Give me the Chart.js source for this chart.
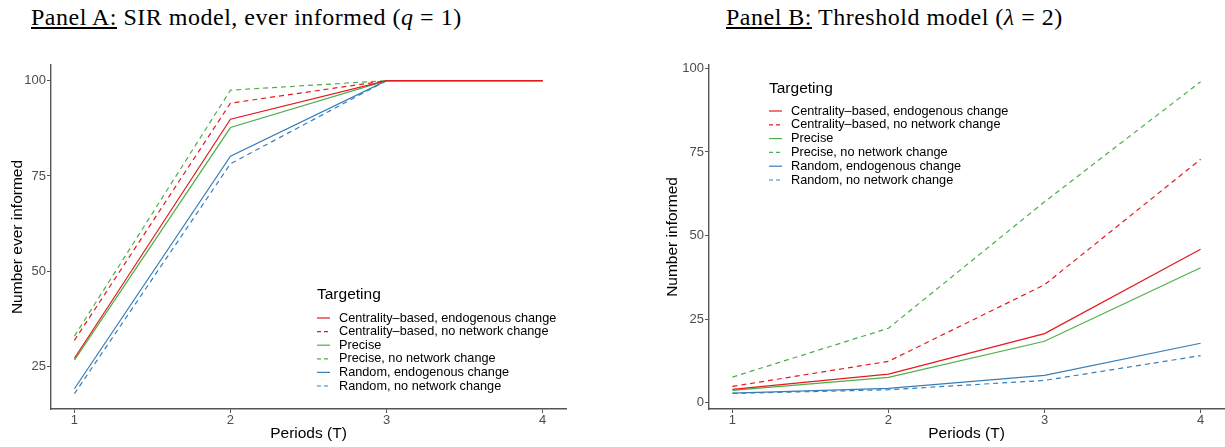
<!DOCTYPE html>
<html>
<head>
<meta charset="utf-8">
<script src="https://cdn.jsdelivr.net/npm/chart.js@4.4.0/dist/chart.umd.min.js"></script>
<style>
  body { margin: 0; background: #fff; width: 1225px; height: 447px; position: relative; overflow: hidden; }
  canvas { position: absolute; top: 0; }
  .title { position: absolute; font-family: "Liberation Serif", serif; font-size: 24px; line-height: 24px; letter-spacing: 0.5px; white-space: nowrap; color: #000; }
</style>
</head>
<body>
<div class="title" style="left:31px; top:5px"><u>Panel A:</u> SIR model, ever informed (<i>q</i> = 1)</div>
<div class="title" style="left:726px; top:5px"><u>Panel B:</u> Threshold model (<i>λ</i> = 2)</div>
<canvas id="chartA" width="612" height="447" style="left:0"></canvas>
<canvas id="chartB" width="613" height="447" style="left:612px"></canvas>
<script>
const periods = [1, 2, 3, 4];
const xTicks = [1, 2, 3, 4];
const yTicksA = [25, 50, 75, 100];
const yTicksB = [0, 25, 50, 75, 100];

const seriesLabels = [
  'Centrality\u2013based, endogenous change',
  'Centrality\u2013based, no network change',
  'Precise',
  'Precise, no network change',
  'Random, endogenous change',
  'Random, no network change'
];

// Panel A: SIR model, number ever informed
const sirCentralityEndog = [27.2, 89.9, 100, 100];
const sirCentralityNoChange = [31.9, 94.1, 100, 100];
const sirPrecise = [26.7, 87.7, 100, 100];
const sirPreciseNoChange = [33.0, 97.5, 100, 100];
const sirRandomEndog = [19.2, 80.2, 100, 100];
const sirRandomNoChange = [17.9, 78.2, 100, 100];

// Panel B: threshold model, number informed
const thrCentralityEndog = [4.0, 8.6, 20.7, 45.9];
const thrCentralityNoChange = [4.9, 12.4, 35.3, 72.8];
const thrPrecise = [3.7, 7.6, 18.4, 40.4];
const thrPreciseNoChange = [7.7, 22.3, 60.1, 96.0];
const thrRandomEndog = [2.9, 4.3, 8.2, 17.8];
const thrRandomNoChange = [2.8, 3.9, 6.7, 14.1];

const colors = ['#E41A1C', '#E41A1C', '#4DAF4A', '#4DAF4A', '#377EB8', '#377EB8'];
const dashes = [[], [5, 4], [], [5, 4], [], [5, 4]];

Chart.defaults.font.family = '"Liberation Sans", Arial, sans-serif';

function makeDatasets(series) {
  return series.map((vals, i) => ({
    label: seriesLabels[i],
    data: vals.map((v, j) => ({ x: periods[j], y: v })),
    borderColor: colors[i],
    borderDash: dashes[i],
    borderWidth: 1.2,
    pointRadius: 0,
    tension: 0,
    fill: false
  }));
}

// ggplot-style legend drawn inside the panel
const ggLegend = {
  id: 'ggLegend',
  afterDatasetsDraw(chart, args, opts) {
    const ctx = chart.ctx;
    ctx.save();
    ctx.textBaseline = 'middle';
    ctx.fillStyle = '#000';
    ctx.font = '15.5px "Liberation Sans", Arial';
    ctx.fillText('Targeting', opts.x, opts.y);
    ctx.font = '12.7px "Liberation Sans", Arial';
    chart.data.datasets.forEach((ds, i) => {
      const y = opts.rowY + i * opts.step;
      ctx.strokeStyle = ds.borderColor;
      ctx.lineWidth = 1.2;
      ctx.setLineDash(ds.borderDash.length ? [4, 3] : []);
      ctx.beginPath();
      ctx.moveTo(opts.x, y);
      ctx.lineTo(opts.x + 13, y);
      ctx.stroke();
      ctx.setLineDash([]);
      ctx.fillStyle = '#000';
      ctx.fillText(ds.label, opts.x + 22, y);
    });
    ctx.restore();
  }
};

function makeScales(yMin, yMax, yTicks, yTitle, yTitlePad) {
  const axisBorder = { color: '#555', width: 1.4 };
  const tickGrid = { drawOnChartArea: false, tickLength: 4, color: '#555', lineWidth: 1 };
  return {
    x: {
      type: 'linear', min: 0.85, max: 4.15,
      afterBuildTicks: s => { s.ticks = xTicks.map(v => ({ value: v })); },
      afterFit: s => { s.height = 38; },
      border: axisBorder,
      grid: tickGrid,
      ticks: { color: '#4d4d4d', font: { size: 13 }, padding: 0, maxRotation: 0 },
      title: { display: true, text: 'Periods (T)', color: '#000', font: { size: 15.5 }, padding: { top: 0, bottom: 4 } }
    },
    y: {
      type: 'linear', min: yMin, max: yMax,
      afterBuildTicks: s => { s.ticks = yTicks.map(v => ({ value: v })); },
      afterFit: s => { s.width = 51; },
      border: axisBorder,
      grid: tickGrid,
      ticks: { color: '#4d4d4d', font: { size: 13 }, padding: 1 },
      title: { display: true, text: yTitle, color: '#000', font: { size: 15.5 }, padding: { top: yTitlePad, bottom: 0 } }
    }
  };
}

new Chart(document.getElementById('chartA'), {
  type: 'line',
  data: {
    datasets: makeDatasets([sirCentralityEndog, sirCentralityNoChange, sirPrecise,
      sirPreciseNoChange, sirRandomEndog, sirRandomNoChange])
  },
  options: {
    responsive: false,
    animation: false,
    layout: { padding: { left: 0, right: 46, top: 65, bottom: 0 } },
    scales: makeScales(13.9, 104.1, yTicksA, 'Number ever informed', 8),
    plugins: {
      legend: { display: false },
      tooltip: { enabled: false },
      ggLegend: { x: 317, y: 295, rowY: 318, step: 13.6 }
    }
  },
  plugins: [ggLegend]
});

new Chart(document.getElementById('chartB'), {
  type: 'line',
  data: {
    datasets: makeDatasets([thrCentralityEndog, thrCentralityNoChange, thrPrecise,
      thrPreciseNoChange, thrRandomEndog, thrRandomNoChange])
  },
  options: {
    responsive: false,
    animation: false,
    layout: { padding: { left: 46, right: 1, top: 65, bottom: 0 } },
    scales: makeScales(-1.85, 101.0, yTicksB, 'Number informed', 5),
    plugins: {
      legend: { display: false },
      tooltip: { enabled: false },
      ggLegend: { x: 157, y: 89, rowY: 111, step: 13.8 }
    }
  },
  plugins: [ggLegend]
});
</script>
</body>
</html>
